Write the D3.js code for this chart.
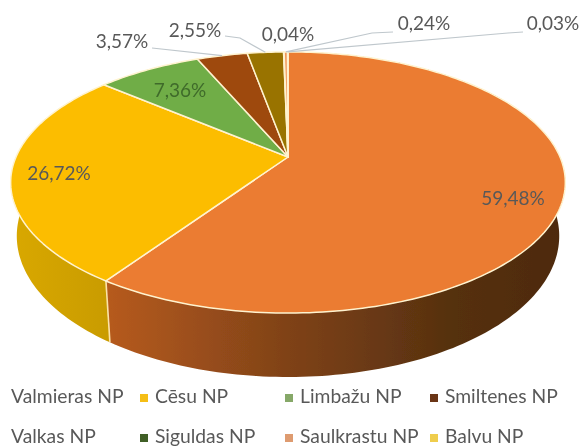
<!DOCTYPE html>
<html><head><meta charset="utf-8">
<script src="https://cdn.jsdelivr.net/npm/d3@7/dist/d3.min.js"></script>
<style>html,body{margin:0;padding:0;background:#fff}svg{display:block}text{font-family:Lato,"Open Sans",sans-serif;fill:#595959}</style>
</head><body><svg id="c" width="582" height="446"></svg>
<script>
const categories=["Valmieras NP","Cēsu NP","Limbažu NP","Smiltenes NP","Valkas NP","Siguldas NP","Saulkrastu NP","Balvu NP"];
const values=[59.48,26.72,7.36,3.57,2.55,0.04,0.24,0.03];
const labels=["59,48%","26,72%","7,36%","3,57%","2,55%","0,04%","0,24%","0,03%"];
const colors=["#EB7C30","#FCBD00","#70AD47","#9E480E","#997300","#43682B","#F1975A","#FFD966"];
const keyColors=[null,"#F5BE13","#86A868","#6B3413",null,"#3F5F28","#DE9B6F","#EFCD4E"];
const labelPos=[[513,200,"middle"],[59,175,"middle"],[180,92,"middle"],[122,43,"middle"],[195,32,"middle"],[288,36,"middle"],[424,25,"middle"],[553,25,"middle"]];
const leaders=[null,null,null,[[152,48]],[[225,36],[240,38]],null,[[393,32],[372,33]],[[523,32],[508,33]]];
const legendX=[11,155,300,445], legendY=[398,438];

const cx=288,cy=157,R=272,P=0.195,S=125.6,D=51.5,IN=0.978;
const svg=d3.select("#c");
const defs=svg.append("defs");
defs.append("filter").attr("id","soft").append("feGaussianBlur").attr("stdDeviation",0.7);
function grad(id,stops){const g=defs.append("linearGradient").attr("id",id).attr("gradientUnits","userSpaceOnUse").attr("x1",11).attr("x2",566).attr("y1",0).attr("y2",0);
 stops.forEach(s=>g.append("stop").attr("offset",s[0]).attr("stop-color",s[1]));}
grad("wall0",[[0,"#C8651F"],[0.18,"#B55A1D"],[0.5,"#7F4218"],[0.8,"#55300F"],[1,"#4E2A0E"]]);
grad("wall1",[[0,"#D9A800"],[0.2,"#C79A00"]]);

const root=svg.append("g").attr("filter","url(#soft)");
const arcs=d3.pie().sort(null).value(d=>d)(values);
const topPt=a=>{const u=Math.sin(a),v=-Math.cos(a),k=1/(1-P*v);return [cx+R*u*k,cy+S*v*k];};
const botPt=a=>{const u=Math.sin(a),v=-Math.cos(a),k=1/(1-P*v);return [cx+R*u*k*IN,cy+S*v*k+D*k];};
const line=d3.line();
const samples=(a,b)=>{const n=Math.max(2,Math.ceil((b-a)/0.02));return d3.range(n+1).map(i=>a+(b-a)*i/n);};

arcs.slice(0,2).forEach((d,i)=>{
 const s=samples(d.startAngle,d.endAngle);
 root.append("path").attr("d",line(s.map(topPt).concat(s.slice().reverse().map(botPt)))+"Z")
  .attr("fill",`url(#wall${i})`).attr("stroke","none");
});
const sa=arcs[0].endAngle;
root.append("line").attr("x1",topPt(sa)[0]).attr("y1",topPt(sa)[1]).attr("x2",botPt(sa)[0]).attr("y2",botPt(sa)[1]).attr("stroke","#FBE3A8").attr("stroke-width",1.6);

arcs.forEach((d,i)=>{
 const s=samples(d.startAngle,d.endAngle);
 root.append("path").attr("d",line([[cx,cy]].concat(s.map(topPt)))+"Z")
  .attr("fill",colors[i]).attr("stroke","#FFF3CF").attr("stroke-width",1.5).attr("stroke-linejoin","round");
});

arcs.forEach((d,i)=>{
 if(!leaders[i])return;
 const mid=(d.startAngle+d.endAngle)/2, e=topPt(mid);
 root.append("path").attr("d",line(leaders[i].concat([e]))).attr("fill","none").attr("stroke","#BFC7CC").attr("stroke-width",1.2);
});

labels.forEach((t,i)=>{
 const p=labelPos[i];
 const c=i===2?"#3F6B2B":"#595959";
 root.append("text").attr("x",p[0]).attr("y",p[1]).attr("text-anchor",p[2]).attr("dominant-baseline","middle")
  .attr("font-size",19).style("fill",c).text(t);
});

categories.forEach((t,i)=>{
 const x=legendX[i%4], y=legendY[Math.floor(i/4)];
 root.append("text").attr("x",x).attr("y",y).attr("dominant-baseline","middle").attr("font-size",19.3).text(t);
 if(keyColors[i]) root.append("rect").attr("x",x-15).attr("y",y-4).attr("width",8).attr("height",8).attr("fill",keyColors[i]);
});
</script></body></html>
